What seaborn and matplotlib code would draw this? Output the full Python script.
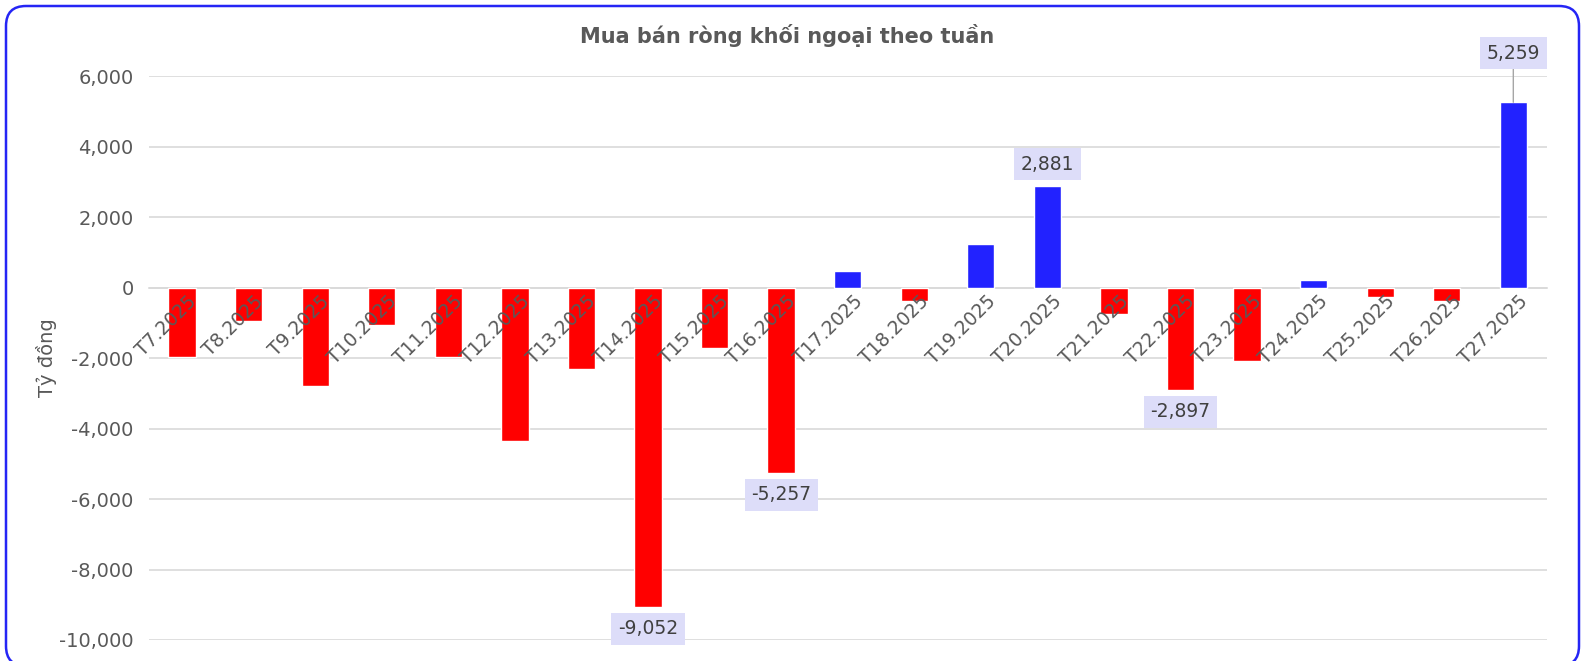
import matplotlib
matplotlib.use("Agg")
import matplotlib.pyplot as plt
import seaborn as sns
import pandas as pd
from matplotlib.patches import FancyBboxPatch

# ---- data ----
weeks = ["T7.2025", "T8.2025", "T9.2025", "T10.2025", "T11.2025", "T12.2025", "T13.2025",
         "T14.2025", "T15.2025", "T16.2025", "T17.2025", "T18.2025", "T19.2025", "T20.2025",
         "T21.2025", "T22.2025", "T23.2025", "T24.2025", "T25.2025", "T26.2025", "T27.2025"]
net_values = [-1960, -940, -2790, -1055, -1960, -4340, -2300,
              -9052, -1710, -5257, 460, -370, 1230, 2881,
              -740, -2897, -2080, 210, -260, -370, 5259]
labeled_weeks = ["T14.2025", "T16.2025", "T20.2025", "T22.2025", "T27.2025"]
y_ticks = [-10000, -8000, -6000, -4000, -2000, 0, 2000, 4000, 6000]
title = "Mua bán ròng khối ngoại theo tuần"
y_label = "Tỷ đồng"

df = pd.DataFrame({"week": weeks, "value": net_values})
df["sign"] = ["pos" if v >= 0 else "neg" for v in net_values]

sns.set_theme(style="white")
plt.rcParams["font.family"] = ["DejaVu Sans"]

fig = plt.figure(figsize=(15.83, 6.61), dpi=100)
ax = fig.add_axes([0.094, 0.0318, 0.883, 0.853])

sns.barplot(data=df, x="week", y="value", hue="sign",
            palette={"pos": "#2222FF", "neg": "#FF0000"},
            dodge=False, legend=False, width=0.41, saturation=1, ax=ax)

ax.set_ylim(-10000, 6000)
ax.set_yticks(y_ticks)
ax.set_yticklabels([f"{t:,}" for t in y_ticks], fontsize=14, color="#595959")
ax.yaxis.grid(True, color="#D9D9D9", linewidth=1.2)
ax.set_axisbelow(True)
ax.xaxis.set_zorder(5)
for s in ["top", "right", "left"]:
    ax.spines[s].set_visible(False)
ax.spines["bottom"].set_position(("data", 0))
ax.spines["bottom"].set_color("#D9D9D9")
ax.spines["bottom"].set_linewidth(1.2)
ax.spines["bottom"].set_zorder(0.6)
ax.tick_params(axis="both", length=0)
ax.tick_params(axis="y", pad=11)
ax.tick_params(axis="x", pad=3)
ax.set_xticks(range(len(weeks)))
ax.set_xticklabels(weeks, rotation=45, ha="right", va="top",
                   rotation_mode="anchor", fontsize=13.5, color="#595959")
for lbl in ax.get_xticklabels():
    lbl.set_transform(lbl.get_transform() + matplotlib.transforms.ScaledTranslation(0.05, 0.0, fig.dpi_scale_trans))
ax.set_xlabel("")
ax.set_ylabel(y_label, fontsize=14, color="#595959")
ax.yaxis.set_label_coords(-0.066, 0.5)
ax.set_xlim(-0.5, len(weeks) - 0.5)

# data labels
box = dict(boxstyle="square,pad=0.35", fc="#DDDDF9", ec="none")
offsets = {"T14.2025": -22, "T16.2025": -22, "T20.2025": 22, "T22.2025": -22, "T27.2025": 49}
for i, (w, v) in enumerate(zip(weeks, net_values)):
    if w in labeled_weeks:
        off = offsets[w]
        kw = {}
        if w == "T27.2025":
            kw["arrowprops"] = dict(arrowstyle="-", color="#A6A6A6", lw=1, shrinkA=0, shrinkB=0)
        ax.annotate(f"{v:,}", xy=(i, v), xytext=(0, off), textcoords="offset pixels",
                    ha="center", va="center", fontsize=13.5, color="#404040",
                    bbox=box, zorder=6, **kw)

fig.suptitle(title, x=0.497, y=0.963, fontsize=15, fontweight="bold", color="#595959")

border = FancyBboxPatch((0.06, -0.05), 15.73, 6.6,
                        boxstyle="round,pad=0,rounding_size=0.2",
                        transform=fig.dpi_scale_trans, fill=False,
                        ec="#2525F5", lw=1.8, clip_on=False)
fig.patches.append(border)

fig.savefig("out.png", dpi=100)
